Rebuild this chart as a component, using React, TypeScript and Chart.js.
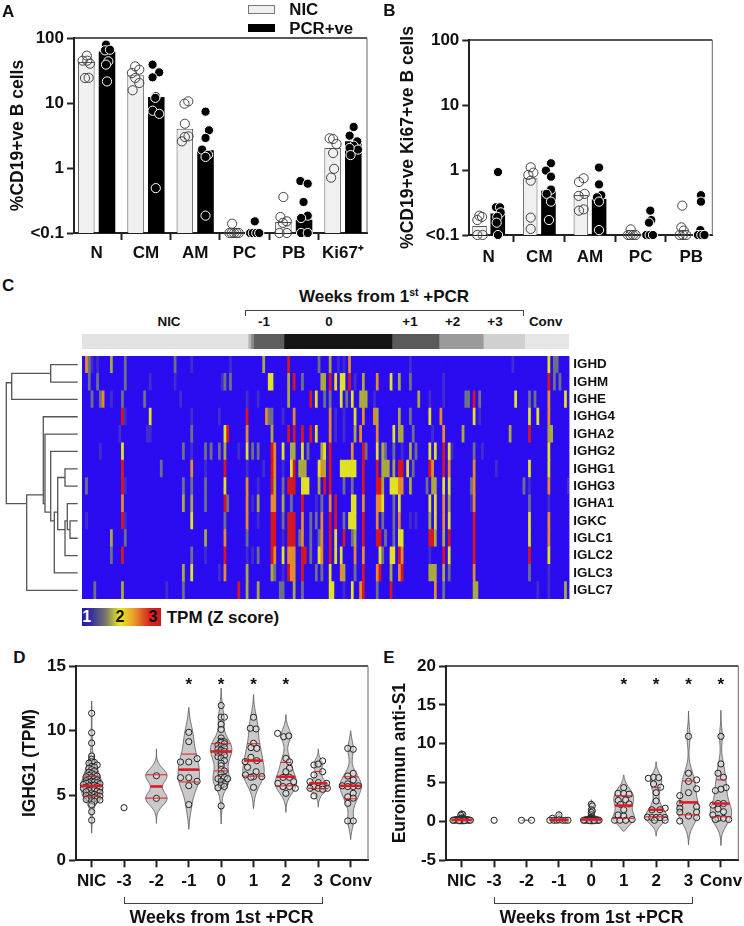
import React, { useEffect, useRef } from "react";
import { Chart, registerables } from "chart.js";

Chart.register(...registerables);
const FONT = '"Liberation Sans", Arial, sans-serif';
Chart.defaults.font.family = FONT;
Chart.defaults.font.weight = "bold";
Chart.defaults.color = "#111";

// ---------- Panel A ----------
const A_CATEGORIES = ["N", "CM", "AM", "PC", "PB", "Ki67⁺"];
const A_NIC_MEANS = [42.7, 26.7, 4.0, 0.1, 0.148, 2.03];
const A_PCR_MEANS = [62, 12.4, 1.87, 0.1, 0.16, 2.57];
// pairs: [horizontal jitter in category units, value]
const A_NIC_POINTS: number[][][] = [
  [[-0.2, 53.5], [-0.285, 44.8], [-0.19, 44.8], [-0.135, 40.3], [-0.237, 24.2], [-0.163, 24.4]],
  [[-0.217, 36.6], [-0.285, 28.9], [-0.135, 32.6], [-0.217, 24.3], [-0.135, 20.3], [-0.27, 15.7]],
  [[-0.14, 10.6], [-0.217, 9.77], [-0.21, 4.8], [-0.135, 3.07], [-0.21, 3.0], [-0.27, 2.57]],
  [[-0.25, 0.139], [-0.305, 0.1], [-0.26, 0.1], [-0.21, 0.1], [-0.16, 0.1], [-0.115, 0.1]],
  [[-0.21, 0.358], [-0.27, 0.176], [-0.14, 0.151], [-0.22, 0.143], [-0.29, 0.1], [-0.14, 0.1]],
  [[-0.27, 2.86], [-0.2, 2.79], [-0.13, 2.34], [-0.2, 1.7], [-0.18, 0.97], [-0.24, 0.71]],
];
const A_PCR_POINTS: number[][][] = [
  [[0.19, 79], [0.17, 64.6], [0.27, 66], [0.237, 43.8], [0.19, 38.9], [0.21, 21.5]],
  [[0.135, 38.9], [0.27, 29.6], [0.135, 24.8], [0.2, 12.7], [0.19, 12], [0.135, 7.6], [0.27, 6.8], [0.2, 0.49]],
  [[0.21, 7.36], [0.28, 3.8], [0.21, 2.9], [0.14, 1.92], [0.26, 1.6], [0.21, 1.48], [0.21, 0.185]],
  [[0.21, 0.151], [0.115, 0.1], [0.17, 0.1], [0.24, 0.1], [0.3, 0.1]],
  [[0.135, 0.631], [0.285, 0.574], [0.2, 0.3], [0.285, 0.185], [0.15, 0.17], [0.15, 0.1], [0.285, 0.1]],
  [[0.217, 4.28], [0.135, 3.14], [0.29, 2.57], [0.217, 2.2], [0.305, 1.92], [0.135, 2.03], [0.155, 1.58]],
];

// ---------- Panel B ----------
const B_CATEGORIES = ["N", "CM", "AM", "PC", "PB"];
const B_NIC_MEANS = [0.137, 0.745, 0.413, 0.1, 0.1];
const B_PCR_MEANS = [0.215, 0.48, 0.358, 0.1, 0.1];
const B_NIC_POINTS: number[][][] = [
  [[-0.184, 0.198], [-0.13, 0.19], [-0.224, 0.17], [-0.224, 0.1], [-0.118, 0.1]],
  [[-0.17, 1.1], [-0.217, 0.84], [-0.118, 0.91], [-0.17, 0.685], [-0.17, 0.185], [-0.17, 0.124]],
  [[-0.125, 0.745], [-0.217, 0.653], [-0.105, 0.43], [-0.224, 0.4], [-0.125, 0.248], [-0.217, 0.237]],
  [[-0.197, 0.122], [-0.25, 0.1], [-0.204, 0.1], [-0.151, 0.1], [-0.1, 0.1]],
  [[-0.178, 0.283], [-0.197, 0.131], [-0.15, 0.117], [-0.23, 0.1], [-0.164, 0.1], [-0.1, 0.1]],
];
const B_PCR_POINTS: number[][][] = [
  [[0.184, 0.93], [0.145, 0.267], [0.224, 0.267], [0.237, 0.223], [0.17, 0.19], [0.158, 0.155], [0.184, 0.1]],
  [[0.23, 1.27], [0.13, 0.98], [0.23, 0.79], [0.23, 0.5], [0.145, 0.43], [0.23, 0.326], [0.19, 0.17]],
  [[0.178, 1.09], [0.178, 0.6], [0.224, 0.41], [0.138, 0.38], [0.178, 0.326], [0.178, 0.119]],
  [[0.19, 0.237], [0.21, 0.17], [0.164, 0.155], [0.11, 0.1], [0.178, 0.1], [0.243, 0.1]],
  [[0.19, 0.41], [0.19, 0.326], [0.178, 0.119], [0.13, 0.1], [0.197, 0.1], [0.26, 0.1]],
];

// ---------- Panel C ----------
const GENES = ["IGHD", "IGHM", "IGHE", "IGHG4", "IGHA2", "IGHG2", "IGHG1", "IGHG3", "IGHA1", "IGKC", "IGLC1", "IGLC2", "IGLC3", "IGLC7"];
const N_SAMPLES = 176;
// z-score levels seen in the heat map
const d = 1.15, g = 1.45, o = 1.75, y = 2, a = 2.5, r = 3;
const IGHD: number[][] = [[1, a], [2, g], [3, d], [5, d], [10, o], [15, g], [33, g], [39, d], [53, d], [65, o], [74, r], [85, g], [89, o], [92, d], [94, d], [96, a], [118, d], [155, d], [168, y], [170, g], [171, g]];
const IGHM: number[][] = [[2, g], [5, g], [15, g], [24, d], [33, d], [50, d], [51, g], [53, g], [67, y], [68, y], [74, o], [76, r], [79, g], [86, o], [87, o], [89, r], [91, y], [93, y], [94, y], [96, r], [98, d], [101, o], [106, a], [111, y], [114, o], [118, g], [130, d], [168, r], [170, g], [172, g]];
const IGHE: number[][] = [[3, g], [6, g], [7, a], [10, d], [14, g], [22, g], [35, d], [59, d], [63, d], [74, o], [82, r], [84, y], [87, g], [89, g], [93, y], [95, g], [97, y], [100, o], [101, o], [102, o], [105, d], [121, o], [125, d], [130, d], [138, g], [139, g], [141, r], [143, g], [156, y], [161, g], [163, g], [168, a], [174, y]];
const IGHG4: number[][] = [[14, r], [15, d], [24, y], [39, d], [49, d], [59, r], [66, a], [67, g], [68, g], [72, d], [76, a], [89, a], [91, d], [94, d], [98, y], [101, a], [105, a], [106, o], [114, o], [118, g], [125, y], [129, a], [141, y], [143, d], [161, y], [164, y], [168, a]];
const IGHA2: number[][] = [[13, d], [23, d], [24, d], [39, g], [51, y], [52, r], [59, a], [68, o], [74, r], [76, r], [79, r], [82, r], [84, y], [89, a], [91, d], [94, d], [98, o], [100, a], [106, a], [112, y], [114, o], [115, o], [119, g], [126, d], [130, a], [137, o], [154, o], [161, r], [168, o], [169, o]];
const IGHG2: number[][] = [[6, d], [14, y], [36, g], [39, d], [44, g], [46, g], [49, g], [51, o], [56, d], [59, y], [61, g], [63, g], [68, r], [69, a], [72, y], [75, o], [76, o], [79, y], [81, g], [86, o], [87, y], [89, r], [97, a], [101, r], [102, g], [106, y], [108, o], [109, g], [112, g], [115, d], [118, o], [120, g], [125, y], [127, y], [130, r], [132, y], [133, d], [141, g], [144, d], [168, y]];
const IGHG1: number[][] = [[14, r], [28, g], [39, a], [44, d], [51, r], [59, d], [65, d], [68, r], [69, a], [72, d], [75, y], [76, r], [78, o], [79, o], [80, o], [85, y], [86, a], [87, o], [89, r], [93, y], [94, y], [95, y], [96, y], [97, y], [98, y], [101, r], [106, r], [108, o], [109, o], [110, o], [112, o], [114, r], [115, r], [117, y], [119, g], [125, r], [126, a], [130, r], [132, a], [141, a], [149, d], [161, y], [168, y]];
const IGHG3: number[][] = [[1, g], [14, r], [15, d], [36, g], [39, g], [44, g], [51, y], [59, a], [63, d], [68, r], [69, o], [72, g], [74, r], [75, r], [76, r], [79, y], [80, y], [81, y], [85, o], [87, r], [89, r], [94, g], [97, g], [101, r], [106, r], [107, r], [108, o], [111, y], [112, y], [113, y], [114, a], [115, a], [118, o], [124, g], [126, o], [127, o], [130, y], [132, y], [140, g], [141, a], [159, g], [161, d], [168, a], [175, d]];
const IGHA1: number[][] = [[14, a], [36, o], [39, o], [44, g], [51, r], [52, g], [59, a], [61, d], [63, o], [68, a], [69, a], [72, o], [75, g], [79, r], [84, d], [86, g], [89, a], [91, r], [97, y], [98, y], [101, a], [106, a], [107, a], [108, y], [112, g], [114, y], [125, y], [127, y], [130, a], [132, o], [140, d], [141, a], [161, g], [168, d]];
const IGKC: number[][] = [[1, d], [14, r], [15, d], [39, y], [51, g], [59, a], [63, d], [68, r], [69, r], [72, g], [74, r], [75, r], [76, r], [79, a], [82, g], [84, g], [86, a], [89, r], [91, r], [94, g], [96, y], [97, y], [98, y], [101, r], [106, a], [108, g], [112, g], [114, a], [118, d], [120, d], [125, o], [127, y], [130, a], [132, y], [141, r], [161, y], [168, a]];
const IGLC1: number[][] = [[10, o], [15, g], [44, o], [51, a], [59, g], [68, r], [69, r], [72, d], [74, r], [75, r], [76, r], [78, g], [79, a], [82, g], [85, g], [86, a], [89, r], [91, y], [94, r], [97, g], [98, o], [101, r], [106, r], [107, r], [109, g], [112, g], [114, y], [115, y], [125, r], [126, r], [127, o], [130, o], [132, r], [141, r], [161, y], [168, a]];
const IGLC2: number[][] = [[10, g], [14, r], [39, g], [44, d], [51, r], [59, d], [61, d], [63, g], [68, r], [69, a], [72, y], [74, a], [75, a], [76, a], [79, r], [80, r], [82, g], [85, y], [86, a], [89, r], [91, y], [93, y], [98, a], [101, a], [107, y], [108, g], [111, y], [112, y], [114, r], [115, a], [125, d], [130, r], [132, y], [141, r], [161, r], [168, y]];
const IGLC3: number[][] = [[36, o], [39, y], [49, d], [51, a], [59, o], [68, o], [69, g], [72, d], [74, r], [75, a], [76, a], [79, r], [84, g], [86, g], [89, y], [93, a], [94, o], [98, g], [101, r], [106, a], [107, r], [111, o], [114, a], [115, r], [125, o], [126, o], [127, o], [130, o], [132, g], [141, a], [161, g], [168, d]];
const IGLC7: number[][] = [[4, g], [14, o], [30, d], [36, g], [56, r], [59, o], [63, o], [71, g], [72, g], [76, o], [79, g], [89, y], [90, y], [94, d], [97, y], [100, a], [101, r], [106, g], [111, r], [127, a], [130, g], [141, o], [142, o], [164, d], [168, d], [174, o]];
const HEAT_ROWS = [IGHD, IGHM, IGHE, IGHG4, IGHA2, IGHG2, IGHG1, IGHG3, IGHA1, IGKC, IGLC1, IGLC2, IGLC3, IGLC7];
const WEEK_BLOCK_SIZES = [60, 1, 1, 11, 39, 17, 16, 15, 16];
const WEEK_BLOCK_GRAYS = ["#e3e3e3", "#b5b5b5", "#8a8a8a", "#5e5e5e", "#141414", "#5a5a5a", "#9a9a9a", "#d0d0d0", "#e6e6e6"];
const WEEK_LABELS: [string, number][] = [["NIC", 169], ["-1", 264], ["0", 329], ["+1", 410], ["+2", 452.7], ["+3", 495], ["Conv", 545.7]];
// dendrogram links: polylines of [merge height, gene row]
const DENDROGRAM: number[][][] = [
  [[77.7, 0], [50.7, 0], [50.7, 1], [77.7, 1]],
  [[50.7, 0.5], [11.7, 0.5], [11.7, 2], [77.7, 2]],
  [[11.7, 1.04], [6.3, 1.04], [6.3, 8], [26.7, 8]],
  [[43.3, 7.5], [26.7, 7.5], [26.7, 13], [77.7, 13]],
  [[77.7, 3], [43.3, 3], [43.3, 8], [45, 8]],
  [[77.7, 4], [45, 4], [45, 8.5], [50.7, 8.5]],
  [[77.7, 5], [50.7, 5], [50.7, 9], [54.3, 9]],
  [[57.7, 8.5], [54.3, 8.5], [54.3, 12], [77.7, 12]],
  [[65, 6.5], [57.7, 6.5], [57.7, 9.5], [65, 9.5]],
  [[77.7, 6], [65, 6], [65, 7], [77.7, 7]],
  [[67.3, 9], [65, 9], [65, 11], [77.7, 11]],
  [[77.7, 8], [67.3, 8], [67.3, 9.5], [70, 9.5]],
  [[77.7, 9], [70, 9], [70, 10], [77.7, 10]],
];

// ---------- Panels D and E ----------
const WEEK_CATEGORIES = ["NIC", "-3", "-2", "-1", "0", "1", "2", "3", "Conv"];
const D_NIC = [11.35, 9.85, 9.05, 8.05, 7.8, 7.6, 7.55, 7.5, 7.35, 7.25, 7.2, 7.1, 7.0, 6.9, 6.8, 6.7, 6.6, 6.55, 6.5, 6.45, 6.4, 6.3, 6.25, 6.2, 6.15, 6.1, 6.05, 6.0, 6.0, 5.95, 5.9, 5.85, 5.8, 5.8, 5.75, 5.7, 5.65, 5.6, 5.55, 5.5, 5.45, 5.4, 5.35, 5.3, 5.25, 5.2, 5.1, 5.05, 5.0, 5.0, 4.95, 4.9, 4.85, 4.8, 4.75, 4.7, 4.65, 4.6, 4.55, 4.3, 3.75, 3.1];
const D_W0 = [11.95, 11.05, 11.05, 10.5, 10.1, 9.45, 9.2, 9.15, 9.1, 9.0, 8.9, 8.8, 8.7, 8.6, 8.5, 8.4, 8.3, 8.2, 8.1, 8.0, 7.9, 7.7, 7.5, 7.3, 7.0, 6.9, 6.7, 6.4, 6.4, 6.3, 6.3, 6.1, 5.9, 5.8, 5.7, 5.6, 4.2];
const D_POINTS_M3 = [[0, 4.06]];
const D_POINTS_M2 = [[0, 6.53], [0, 4.78]];
const D_POINTS_M1 = [[0, 9.88], [0, 9.16], [0.257, 7.85], [-0.257, 7.59], [0, 7.59], [-0.257, 6.38], [0, 6.38], [0.257, 6.1], [0, 5.76], [0, 4.3]];
const D_POINTS_W1 = [[0, 11.04], [-0.1, 10.19], [0.08, 10.14], [0, 9.03], [-0.08, 8.7], [0.1, 8.64], [-0.08, 7.95], [0.1, 7.69], [-0.26, 7.62], [-0.185, 7.18], [0.08, 6.84], [-0.25, 6.59], [0, 6.46], [0.257, 6.46], [-0.08, 6.41], [0, 5.63]];
const D_POINTS_W2 = [[-0.257, 9.8], [-0.07, 9.54], [0.09, 9.6], [0, 7.87], [0.11, 7.6], [0.11, 7.1], [0, 6.84], [-0.09, 6.4], [0.11, 6.4], [0.24, 6.07], [-0.25, 5.94], [-0.09, 5.69], [0.11, 5.69], [0.29, 5.56], [0, 5.17]];
const D_POINTS_W3 = [[0.134, 7.67], [-0.134, 7.36], [0, 7.43], [0.134, 6.84], [-0.134, 6.59], [-0.257, 6.07], [0, 6.0], [0.257, 5.94], [-0.134, 5.69], [0, 5.56], [0.134, 5.69], [-0.257, 5.56], [0.28, 5.56], [0.134, 5.48], [-0.134, 4.97]];
const D_POINTS_CONV = [[-0.09, 8.64], [0.08, 8.57], [0.08, 6.71], [-0.09, 6.51], [0.08, 6.2], [-0.09, 5.9], [-0.09, 5.69], [0.08, 5.69], [0.24, 5.75], [-0.26, 5.75], [0.08, 5.17], [-0.09, 4.9], [0.08, 4.8], [-0.09, 4.4], [-0.09, 3.04], [0.08, 3.04]];
const D_MEDIAN = [5.75, NaN, 5.7, 7.0, 8.4, 7.7, 6.45, 5.95, 5.75];
const D_Q1 = [4.95, NaN, 4.8, 6.05, 6.9, 6.5, 5.75, 5.55, 4.75];
const D_Q3 = [6.5, NaN, 6.6, 8.2, 9.0, 9.0, 7.55, 6.85, 6.45];
const D_BANDWIDTH = [0.5, 0, 0.55, 0.85, 0.55, 0.75, 0.55, 0.33, 0.6];
const D_TAIL_LOW = [2.1, 0, 2.85, 2.4, 2.8, 4.0, 3.7, 4.1, 1.6];
const D_TAIL_HIGH = [12.3, 0, 8.6, 11.8, 13.3, 12.8, 11.25, 8.6, 10.0];
const D_STARS = [3, 4, 5, 6];

const E_NIC = [0.95, 0.9, 0.8, 0.45, 0.4, 0.35, 0.35, 0.3, 0.3, 0.3, 0.25, 0.25, 0.25, 0.2, 0.2, 0.2, 0.2, 0.2, 0.2, 0.15, 0.15, 0.15, 0.15, 0.1, 0.1, 0.1, 0.1, 0.1, 0.1, 0.1];
const E_W0 = [2.2, 2.0, 1.5, 1.35, 1.15, 0.85, 0.6, 0.55, 0.45, 0.4, 0.35, 0.3, 0.3, 0.25, 0.25, 0.25, 0.2, 0.2, 0.2, 0.2, 0.2, 0.2, 0.15, 0.15, 0.15, 0.15, 0.1, 0.1, 0.1, 0.1, 0.1, 0.1];
const E_POINTS_M3 = [[0, 0.15]];
const E_POINTS_M2 = [[-0.155, 0.15], [0.155, 0.15]];
const E_POINTS_M1 = [[0, 0.85], [-0.2, 0.41], [-0.28, 0.15], [-0.155, 0.15], [-0.07, 0.15], [0.01, 0.2], [0.11, 0.15], [0.2, 0.15], [0.28, 0.15]];
const E_POINTS_W1 = [[0, 4.35], [-0.175, 3.62], [0, 3.6], [0.165, 3.5], [0.06, 2.76], [-0.17, 2.7], [0.165, 2.25], [-0.1, 2.2], [0, 1.5], [-0.175, 0.83], [0, 0.7], [-0.28, 0.15], [-0.12, 0.15], [0.06, 0.15], [0.26, 0.25]];
const E_POINTS_W2 = [[-0.24, 5.55], [-0.08, 5.68], [0.08, 5.64], [-0.08, 4.82], [0.14, 4.4], [0, 3.7], [0, 2.63], [0.28, 1.7], [-0.13, 1.5], [0.12, 1.5], [-0.27, 0.55], [-0.13, 0.5], [0, 0.5], [0.12, 0.5], [0.27, 0.5], [0.28, 0.15], [-0.05, 0.15]];
const E_POINTS_W3 = [[0, 10.95], [0, 6.2], [0.25, 5.35], [0, 5.15], [0.25, 4.2], [0, 3.7], [-0.27, 3.32], [-0.27, 2.3], [0.25, 1.9], [-0.27, 1.7], [0.25, 1.2], [-0.27, 1.2], [0.25, 0.5], [0, 0.7], [-0.27, 0.05]];
const E_POINTS_CONV = [[0, 10.95], [0, 7.4], [-0.09, 6.2], [0.08, 5.68], [0.16, 4.35], [0, 4.15], [-0.17, 3.97], [-0.09, 2.3], [0.08, 2.3], [-0.25, 2.1], [-0.09, 1.6], [0.08, 1.25], [-0.25, 0.83], [-0.09, 0.4], [0.08, 0.4], [0.24, 0.25], [-0.17, 0.25]];
const E_MEDIAN = [0.2, NaN, NaN, 0.2, 0.25, 2.05, 1.5, 2.45, 2.3];
const E_Q1 = [NaN, NaN, NaN, NaN, NaN, 0.4, 0.6, 0.85, 0.6];
const E_Q3 = [NaN, NaN, NaN, NaN, NaN, 3.3, 4.35, 5.2, 5.35];
const E_BANDWIDTH = [0.12, 0, 0.02, 0.12, 0.15, 0.75, 0.75, 1.2, 1.1];
const E_TAIL_LOW = [-0.2, 0, 0.13, -0.2, -0.3, -1.3, -1.9, -3.0, -3.1];
const E_TAIL_HIGH = [1.4, 0, 0.17, 1.3, 2.8, 6.0, 7.7, 14.2, 14.3];
const E_MAX_HALF_WIDTH = [0.31, 0, 0.155, 0.3, 0.33, 0.33, 0.33, 0.33, 0.33];
const E_STARS = [5, 6, 7, 8];

// ---------- helpers ----------
const swarm = (vals: number[], bin: number, step: number, cap: number) => {
  const seen = new Map<number, number>();
  return vals.map((v) => {
    const b = Math.round(v / bin);
    const n = seen.get(b) || 0;
    seen.set(b, n + 1);
    const row = Math.ceil(n / 2) * step;
    const wrapped = row > cap ? row - cap - step / 2 : row;
    return [(n % 2 ? 1 : -1) * wrapped, v];
  });
};

const STOPS: [number, number[]][] = [
  [1, [43, 11, 240]], [1.45, [112, 112, 132]], [1.75, [170, 170, 60]], [2, [226, 226, 36]], [2.5, [228, 140, 40]], [3, [214, 24, 30]],
];
const heatColor = (z: number) => {
  for (let i = 1; i < STOPS.length; i++) {
    if (z <= STOPS[i][0]) {
      const [z0, c0] = STOPS[i - 1];
      const [z1, c1] = STOPS[i];
      const t = (z - z0) / (z1 - z0);
      return `rgb(${c0.map((c, k) => Math.round(c + (c1[k] - c) * t)).join(",")})`;
    }
  }
  return "rgb(214,24,30)";
};

const framePlugin = {
  id: "frame",
  afterDraw(chart: any) {
    const { ctx, chartArea: c } = chart;
    ctx.save();
    ctx.strokeStyle = "#222";
    ctx.lineWidth = 1.4;
    ctx.beginPath();
    ctx.moveTo(c.left, c.top);
    ctx.lineTo(c.right, c.top);
    ctx.stroke();
    ctx.strokeStyle = "#666";
    ctx.lineWidth = 1;
    ctx.beginPath();
    ctx.moveTo(c.right, c.top);
    ctx.lineTo(c.right, c.bottom);
    ctx.stroke();
    ctx.restore();
  },
};

const baseAxis = () => ({
  border: { color: "#222", width: 2 },
  grid: { drawOnChartArea: false, color: "#222", tickLength: 7, tickWidth: 2 },
});

const fixY = (w: number) => (s: any) => {
  s.width = w;
  s.paddingTop = 0;
  s.paddingBottom = 0;
};
const fixX = (h: number) => (s: any) => {
  s.height = h;
  s.paddingLeft = 0;
  s.paddingRight = 0;
};
const TICK_FONT = { size: 17, weight: "bold" as const, family: FONT };
const TITLE_FONT = { size: 17.5, weight: "bold" as const, family: FONT };

function barConfig(o: any) {
  const pts = (groups: number[][][]) =>
    groups.flatMap((g, i) => g.map(([dx, v]) => ({ x: i + dx, y: v })));
  const bars = (vals: number[]) => vals.map((v, i) => ({ x: i, y: v }));
  return {
    type: "bar",
    data: {
      datasets: [
        { type: "scatter", order: 0, clip: false, data: pts(o.nicPts), pointRadius: 4.6, borderWidth: 1, borderColor: "#444", backgroundColor: "rgba(255,255,255,0)" },
        { type: "scatter", order: 1, clip: false, data: pts(o.pcrPts), pointRadius: 4.6, borderWidth: 1, borderColor: "#fff", backgroundColor: "#000" },
        { label: "NIC", order: 2, data: bars(o.nic), backgroundColor: "#f0f0f0", borderColor: "#555", borderWidth: 1, categoryPercentage: o.cat, barPercentage: 0.8 },
        { label: "PCR+ve", order: 2, data: bars(o.pcr), backgroundColor: "#000", borderWidth: 0, categoryPercentage: o.cat, barPercentage: 0.8 },
      ],
    },
    options: {
      animation: false, responsive: false, events: [],
      layout: { padding: o.pad },
      plugins: { legend: { display: false }, tooltip: { enabled: false } },
      scales: {
        x: {
          ...baseAxis(), type: "linear", offset: false, min: o.xMin, max: o.xMax,
          afterBuildTicks: (s: any) => { s.ticks = o.cats.map((_: string, i: number) => ({ value: i })); },
          afterFit: fixX(o.xH),
          ticks: { font: TICK_FONT, autoSkip: false, maxRotation: 0, minRotation: 0, padding: o.xPad, callback: (v: number) => o.cats[v] },
        },
        y: {
          ...baseAxis(), type: "logarithmic", min: 0.1, max: 100,
          afterBuildTicks: (s: any) => { s.ticks = [0.1, 1, 10, 100].map((value) => ({ value })); },
          afterFit: fixY(o.yW),
          title: { display: true, text: o.title, font: TITLE_FONT, color: "#111", padding: { top: o.titlePad, bottom: 0 } },
          ticks: { font: TICK_FONT, padding: 3, callback: (v: number) => (v === 0.1 ? "<0.1" : String(v)) },
        },
      },
    },
    plugins: [framePlugin],
  };
}

function violinConfig(o: any) {
  const profile = (i: number) => {
    const vals: number[] = o.groups[i].map((p: number[]) => p[1]);
    const bw = o.bw[i];
    const dens = (v: number) => vals.reduce((s, u) => s + Math.exp(-0.5 * ((v - u) / bw) ** 2), 0);
    const lo = o.lo[i], hi = o.hi[i];
    const levels: number[] = [];
    for (let k = 0; k <= 80; k++) levels.push(lo + ((hi - lo) * k) / 80);
    const raw = levels.map(dens);
    const peak = Math.max(...raw);
    const half = o.maxW ? o.maxW[i] : 0.33;
    const taper = (v: number) => Math.min(1, (Math.min(v - lo, hi - v) / (hi - lo)) * 40);
    return { levels, widths: raw.map((w, k) => (w / peak) * half * taper(levels[k])), at: (v: number) => (dens(v) / peak) * half };
  };
  const violins = o.groups.map((_: any, i: number) => (o.bw[i] > 0 ? { i, ...profile(i) } : null)).filter(Boolean);
  const violinPlugin = {
    id: "violins",
    beforeDatasetsDraw(chart: any) {
      const { ctx, scales: { x, y: yy } } = chart;
      ctx.save();
      violins.forEach((v: any) => {
        ctx.beginPath();
        v.levels.forEach((l: number, k: number) => ctx.lineTo(x.getPixelForValue(v.i - v.widths[k]), yy.getPixelForValue(l)));
        for (let k = v.levels.length - 1; k >= 0; k--) ctx.lineTo(x.getPixelForValue(v.i + v.widths[k]), yy.getPixelForValue(v.levels[k]));
        ctx.closePath();
        ctx.fillStyle = "#c9c9c9";
        ctx.strokeStyle = "#555";
        ctx.lineWidth = 0.8;
        ctx.fill();
        ctx.stroke();
      });
      ctx.restore();
    },
    afterDatasetsDraw(chart: any) {
      const { ctx, scales: { x, y: yy } } = chart;
      ctx.save();
      ctx.strokeStyle = "#dc1c22";
      const line = (v: any, val: number, w: number) => {
        if (!Number.isFinite(val)) return;
        const h = v.at(val);
        ctx.lineWidth = w;
        ctx.beginPath();
        ctx.moveTo(x.getPixelForValue(v.i - h), yy.getPixelForValue(val));
        ctx.lineTo(x.getPixelForValue(v.i + h), yy.getPixelForValue(val));
        ctx.stroke();
      };
      violins.forEach((v: any) => {
        line(v, o.q1[v.i], 1);
        line(v, o.q3[v.i], 1);
        line(v, o.med[v.i], 2.6);
      });
      ctx.fillStyle = "#111";
      ctx.font = `bold 17px ${FONT}`;
      ctx.textAlign = "center";
      ctx.textBaseline = "middle";
      o.stars.forEach((i: number) => ctx.fillText("*", x.getPixelForValue(i), yy.getPixelForValue(o.starY) + 3));
      ctx.restore();
    },
  };
  return {
    type: "scatter",
    data: {
      datasets: [{
        clip: false,
        data: o.groups.flatMap((g: number[][], i: number) => g.map(([dx, v]) => ({ x: i + dx, y: v }))),
        pointRadius: 3.1, borderWidth: 1, borderColor: "#222", backgroundColor: "rgba(235,235,235,0.45)",
      }],
    },
    options: {
      animation: false, responsive: false, events: [],
      layout: { padding: o.pad },
      plugins: { legend: { display: false }, tooltip: { enabled: false } },
      scales: {
        x: {
          ...baseAxis(), type: "linear", min: -0.484, max: 8.536,
          afterBuildTicks: (s: any) => { s.ticks = WEEK_CATEGORIES.map((_, i) => ({ value: i })); },
          afterFit: fixX(o.xH),
          ticks: { font: TICK_FONT, autoSkip: false, maxRotation: 0, minRotation: 0, padding: 4, callback: (v: number) => WEEK_CATEGORIES[v] },
        },
        y: {
          ...baseAxis(), type: "linear", min: o.yMin, max: o.yMax,
          afterFit: fixY(76),
          title: { display: true, text: o.title, font: TITLE_FONT, color: "#111", padding: { top: 20, bottom: 0 } },
          ticks: { font: TICK_FONT, padding: 3, stepSize: 5 },
        },
      },
    },
    plugins: [framePlugin, violinPlugin],
  };
}

const heatConfig = () => {
  const cols: number[][] = Array.from({ length: N_SAMPLES }, () => GENES.map(() => 1));
  HEAT_ROWS.forEach((row, ri) => row.forEach(([c, z]) => { cols[c][ri] = z; }));
  return {
    type: "bar",
    data: {
      labels: GENES,
      datasets: cols.map((col) => ({
        data: col.map(() => 1),
        backgroundColor: col.map(heatColor),
        borderWidth: 0, barPercentage: 1, categoryPercentage: 1,
      })),
    },
    options: {
      indexAxis: "y", animation: false, responsive: false, events: [],
      plugins: { legend: { display: false }, tooltip: { enabled: false } },
      scales: {
        x: { display: false, stacked: true, min: 0, max: N_SAMPLES },
        y: {
          stacked: true, position: "right", afterFit: fixY(174.7),
          grid: { display: false, drawTicks: false }, border: { display: false },
          ticks: { font: { size: 13.4, weight: "bold", family: FONT }, color: "#111", padding: 4, autoSkip: false },
        },
      },
    },
    plugins: [{
      id: "heatBack",
      beforeDatasetsDraw(chart: any) {
        const c = chart.chartArea;
        chart.ctx.fillStyle = heatColor(1);
        chart.ctx.fillRect(c.left, c.top, c.right - c.left, c.bottom - c.top);
      },
    }],
  };
};

const annotationConfig = () => ({
  type: "bar",
  data: {
    labels: ["group"],
    datasets: WEEK_BLOCK_SIZES.map((n, i) => ({ data: [n], backgroundColor: WEEK_BLOCK_GRAYS[i], borderWidth: 0, barPercentage: 1, categoryPercentage: 1 })),
  },
  options: {
    indexAxis: "y", animation: false, responsive: false, events: [],
    plugins: { legend: { display: false }, tooltip: { enabled: false } },
    scales: {
      x: { display: false, stacked: true, min: 0, max: N_SAMPLES },
      y: { display: false, stacked: true },
    },
  },
});

const dendroConfig = () => ({
  type: "scatter",
  data: {
    datasets: DENDROGRAM.map((link) => ({
      data: link.map(([h, row]) => ({ x: h, y: row })),
      showLine: true, pointRadius: 0, borderColor: "#555", borderWidth: 1.3, tension: 0, clip: false,
    })),
  },
  options: {
    animation: false, responsive: false, events: [],
    plugins: { legend: { display: false }, tooltip: { enabled: false } },
    scales: {
      x: { display: false, type: "linear", min: 0, max: 82 },
      y: { display: false, type: "linear", min: -0.5, max: 13.5, reverse: true },
    },
  },
});

const weeksD = [swarm(D_NIC, 0.3, 0.085, 0.3), D_POINTS_M3, D_POINTS_M2, D_POINTS_M1, swarm(D_W0, 0.3, 0.1, 0.3), D_POINTS_W1, D_POINTS_W2, D_POINTS_W3, D_POINTS_CONV];
const weeksE = [swarm(E_NIC, 0.3, 0.03, 0.3), E_POINTS_M3, E_POINTS_M2, E_POINTS_M1, swarm(E_W0, 0.3, 0.03, 0.33), E_POINTS_W1, E_POINTS_W2, E_POINTS_W3, E_POINTS_CONV];

function Plot({ left, top, width, height, make }: any) {
  const ref = useRef<HTMLCanvasElement>(null);
  useEffect(() => {
    const chart = new Chart(ref.current as any, make());
    return () => chart.destroy();
  }, []);
  return <canvas ref={ref} width={width} height={height} style={{ position: "absolute", left, top, width, height, display: "block" }} />;
}

const T = ({ x, y, size, center, color, children }: any) => (
  <div style={{
    position: "absolute", left: x, top: y, fontFamily: FONT, fontWeight: 700, fontSize: size, color: color || "#111",
    whiteSpace: "nowrap", lineHeight: 1, transform: center ? "translate(-50%,-50%)" : "translateY(-50%)",
  }}>{children}</div>
);
const Box = ({ x, y, w, h, style }: any) => <div style={{ position: "absolute", left: x, top: y, width: w, height: h, boxSizing: "border-box", ...style }} />;

const Bracket = ({ x0, x1, y0 }: any) => (
  <Box x={x0} y={y0 - 6} w={x1 - x0} h={7} style={{ borderLeft: "1.3px solid #444", borderRight: "1.3px solid #444", borderBottom: "1.3px solid #444" }} />
);

export default function App() {
  useEffect(() => {
    document.body.style.margin = "0";
    document.body.style.background = "#fff";
  }, []);
  return (
    <div style={{ position: "relative", width: 744, height: 926, overflow: "hidden", background: "#fff" }}>
      <Plot left={0} top={0} width={380} height={270} make={() => barConfig({
        cats: A_CATEGORIES, nic: A_NIC_MEANS, pcr: A_PCR_MEANS, nicPts: A_NIC_POINTS, pcrPts: A_PCR_POINTS,
        xMin: -0.46, xMax: 5.488, cat: 0.84, xH: 37, yW: 74, title: "%CD19+ve B cells", titlePad: 7.8, xPad: 3,
        pad: { top: 38, right: 13, left: 0, bottom: 0 },
      })} />
      <Plot left={380} top={0} width={364} height={270} make={() => barConfig({
        cats: B_CATEGORIES, nic: B_NIC_MEANS, pcr: B_PCR_MEANS, nicPts: B_NIC_POINTS, pcrPts: B_PCR_POINTS,
        xMin: -0.382, xMax: 4.414, cat: 0.72, xH: 35, yW: 89.3, title: "%CD19+ve Ki67+ve B cells", titlePad: 17.8, xPad: 5,
        pad: { top: 40, right: 31.7, left: 0, bottom: 0 },
      })} />
      <T x={2} y={11} size={17}>A</T>
      <T x={383.3} y={10} size={17}>B</T>
      <T x={2} y={285} size={17}>C</T>
      <T x={13.3} y={657} size={17}>D</T>
      <T x={383.3} y={657} size={17}>E</T>

      <Box x={248} y={5} w={27} h={9} style={{ background: "#f0f0f0", border: "1px solid #777" }} />
      <T x={289.3} y={10} size={16.8}>NIC</T>
      <Box x={248} y={24} w={27} h={8} style={{ background: "#000" }} />
      <T x={289.3} y={28.5} size={16.8}>PCR+ve</T>

      <T x={384} y={296} size={17} center>Weeks from 1<sup style={{ fontSize: 10.5, lineHeight: 0, verticalAlign: "baseline", position: "relative", top: -6 }}>st</sup> +PCR</T>
      <Box x={245} y={310} w={279.3} h={6} style={{ borderLeft: "1.3px solid #444", borderRight: "1.3px solid #444", borderTop: "1.3px solid #444" }} />
      {WEEK_LABELS.map(([t, x]) => <T key={t} x={x} y={322} size={13.4} center>{t}</T>)}
      <Plot left={82} top={334} width={487.3} height={15} make={annotationConfig} />
      <Plot left={0} top={356} width={82} height={243} make={dendroConfig} />
      <Plot left={82} top={356} width={662} height={243} make={heatConfig} />
      <Box x={82} y={608} w={79} h={18} style={{ background: "linear-gradient(90deg,#2a14b4 0%,#35309c 12%,#77776e 30%,#e8e820 48%,#e8a02c 65%,#d8281e 85%,#c81a22 100%)" }} />
      <T x={86.7} y={617} size={16} center color="#fff">1</T>
      <T x={120} y={617} size={16} center>2</T>
      <T x={153} y={617} size={16} center>3</T>
      <T x={166.7} y={616.7} size={17}>TPM (Z score)</T>

      <Plot left={0} top={640} width={380} height={286} make={() => violinConfig({
        groups: weeksD, bw: D_BANDWIDTH, lo: D_TAIL_LOW, hi: D_TAIL_HIGH, q1: D_Q1, med: D_MEDIAN, q3: D_Q3,
        stars: D_STARS, starY: 13.74, yMin: 0, yMax: 15, title: "IGHG1 (TPM)", xH: 65.7,
        pad: { top: 26, right: 12, left: 0, bottom: 0 },
      })} />
      <Plot left={370} top={640} width={374} height={286} make={() => violinConfig({
        groups: weeksE, bw: E_BANDWIDTH, lo: E_TAIL_LOW, hi: E_TAIL_HIGH, maxW: E_MAX_HALF_WIDTH, q1: E_Q1, med: E_MEDIAN, q3: E_Q3,
        stars: E_STARS, starY: 17.9, yMin: -5, yMax: 20, title: "Euroimmun anti-S1", xH: 65.7,
        pad: { top: 26, right: 5.7, left: 0, bottom: 0 },
      })} />
      <Bracket x0={124} x1={322.7} y0={902.7} />
      <T x={221.5} y={918} size={17.8} center>Weeks from 1st +PCR</T>
      <Bracket x0={494} x1={693} y0={902.7} />
      <T x={591.5} y={918} size={17.8} center>Weeks from 1st +PCR</T>
    </div>
  );
}
